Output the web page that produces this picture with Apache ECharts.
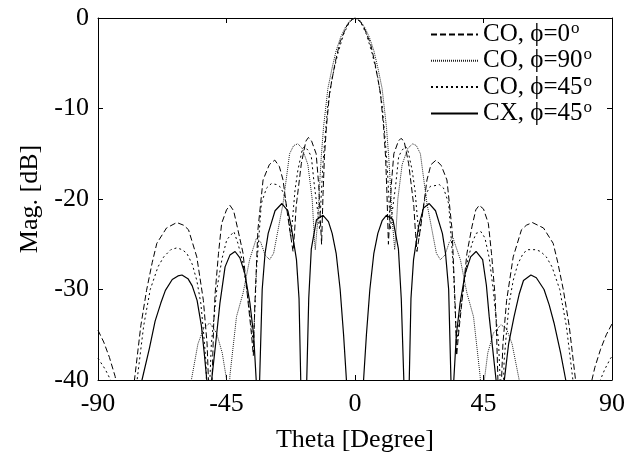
<!DOCTYPE html>
<html>
<head>
<meta charset="utf-8">
<script src="https://cdn.jsdelivr.net/npm/echarts@6/dist/echarts.min.js"></script>
<style>
html,body{margin:0;padding:0;background:#fff;}
#chart{width:628px;height:462px;}
</style>
</head>
<body>
<div id="chart"></div>
<script>
// ---- data (theta in degrees, magnitude in dB) ----
const seriesNames = ['CO, \u03D5=0\u00B0', 'CO, \u03D5=90\u00B0', 'CO, \u03D5=45\u00B0', 'CX, \u03D5=45\u00B0'];
const xTicks = [-90, -45, 0, 45, 90];
const yTicks = [-40, -30, -20, -10, 0];

// CO, phi = 0 (dashed)
const thetaCO0 = [-90,-88,-86,-84,-83.3,-80,-77.6,-75,-73,-71,-69.4,-66,-62.4,-60,-58.3,-55.4,-53.1,-51.8,-50.6,-49.5,-49,-47.8,-46.7,-45,-43.8,-42.5,-41,-39.2,-37.5,-36.3,-35.6,-35.1,-34,-32.2,-30,-28.1,-26.5,-25.2,-23.5,-21.7,-21.2,-20.6,-18.8,-17.2,-16.3,-15.2,-13.6,-12.7,-12.1,-11.7,-11.2,-10.7,-10,-8.9,-7,-5.4,-3.1,-1.5,0,
  1.5,3.1,5.4,7,8.9,10,10.7,11.2,11.7,12.1,12.7,13.6,15.2,16.1,17.2,18.8,20.6,21.2,21.7,23.5,25.2,26.6,28.4,30.2,32.2,34,35.1,35.6,36.3,37.5,39.2,41,42.3,43.5,45,46.7,47.8,49,49.5,50.6,51.8,53.1,55.4,58.3,60,62.1,66,69.4,71,73,75,77.6,80,82.6,84,86,88,90];
const magCO0 = [-34.5,-35.8,-37.5,-39.6,-41,-55,-41,-34,-30.1,-27,-24.9,-23.2,-22.6,-22.9,-23.4,-26.4,-31.2,-36,-46,-34,-30.5,-26,-22.7,-21.2,-20.7,-21.3,-23.4,-26,-31.2,-34.8,-37.3,-31.9,-23.4,-17.9,-16.2,-15.7,-16.4,-17.9,-22,-25.8,-23.8,-20.8,-16.1,-13.6,-13.2,-13.6,-15,-18.5,-22.5,-25,-19.5,-15.3,-12,-8.3,-5,-2.8,-1,-0.25,0,
  -0.25,-1,-2.8,-5,-8.3,-12,-15.3,-19.5,-25,-22.5,-18.5,-15,-13.6,-13.3,-13.6,-16.1,-20.8,-23.8,-25.8,-22,-17.9,-16.2,-15.7,-16.3,-17.9,-23.4,-31.9,-37.3,-34.8,-31.2,-26,-23,-21.2,-20.7,-21.1,-22.7,-26,-30.5,-34,-46,-36,-31.2,-26.4,-23.4,-22.9,-22.6,-23.2,-24.9,-27,-30.1,-34,-41,-55,-40.5,-38.6,-36.6,-35,-33.8];

// CO, phi = 90 (fine dotted)
const thetaCO90 = [-60,-57.3,-55,-53,-50.9,-48.5,-46.5,-44.7,-44.2,-43.8,-41.5,-39.2,-36.9,-34.5,-33,-31.5,-29.9,-28.5,-27,-25.2,-22.9,-21.5,-20,-18.5,-16.5,-15,-14.2,-13.9,-13.5,-13,-12.4,-11.8,-11,-9.5,-8,-6.6,-5,-3.5,-2,0,
  2,3.5,5,6.6,8,9.5,11,11.8,12.4,13,13.5,13.9,14.2,15,16.5,18.5,20.2,21.5,22.9,25.2,27,28.5,29.9,31.5,33,34.2,36.9,39.2,41.5,43.8,44.6,45.3,46.5,48.5,51.1,53,55,57.5,60];
const magCO90 = [-50,-40,-36,-34.3,-33.7,-34.8,-37,-40.5,-43,-39.5,-33,-30.4,-26.7,-24.3,-24.8,-26.2,-26.7,-26,-23.5,-20.5,-15,-14.1,-13.9,-14.4,-16.2,-20,-24.5,-25.6,-24,-22.3,-18.5,-15.3,-12,-7.8,-5.5,-3.6,-2.1,-1.1,-0.35,0,
  -0.35,-1.1,-2.1,-3.6,-5.5,-7.8,-12,-15.3,-18.5,-22.3,-24,-25.6,-24.5,-20,-16.2,-14.4,-13.9,-14.1,-15,-20.5,-23.5,-26,-26.7,-26.2,-24.8,-24.2,-26.7,-30.4,-33,-39.5,-43,-40,-37,-34.8,-33.9,-34.3,-36,-40,-50];

// CO, phi = 45 (short dots)
const thetaCO45 = [-90,-87.5,-85.1,-81,-76.5,-74,-71.7,-69,-67,-64.5,-62.4,-60.5,-58.9,-57,-55.4,-54,-53.1,-52.2,-51.6,-50.3,-48.4,-46.5,-44.9,-42.4,-41,-39.2,-37.5,-36.3,-35.6,-34.9,-34.5,-33.5,-32.8,-31,-29.3,-27.5,-26.4,-24.9,-23.5,-22.5,-21.9,-21,-20,-18.5,-17.7,-16.5,-15.3,-14.2,-13,-12.4,-11.9,-11.2,-10.5,-9.5,-8,-6,-4,-2,0,
  2,4,6,8,9.5,10.5,11.2,11.9,12.4,13,14.2,15.3,16.5,17.7,18.5,20,21,21.9,22.5,23.5,24.9,26.4,28.4,29.5,31,32.8,33.5,34.5,34.9,35.6,36.3,37.5,39.2,41,42.4,44.1,45.5,47,48.4,50.3,51.6,52.2,53.1,54,55.4,57,58.9,60.5,63.3,65,67,69,71.7,74,76.5,81,85.5,87.5,89.5,90];
const magCO45 = [-37.6,-38.8,-40.3,-52,-40.5,-34,-30,-27.5,-26.4,-25.6,-25.4,-25.6,-26,-27.2,-29,-31.5,-34.5,-38,-46,-36,-30,-26.5,-24.5,-23.6,-24.9,-27.1,-31,-34.1,-36,-31,-27.8,-23.5,-20.5,-18.8,-18.3,-18.4,-18.6,-19.4,-21.5,-24.3,-22.3,-19,-16.8,-14.6,-14.2,-14.6,-15.3,-18.6,-21.5,-23.4,-20,-16,-13.2,-9.6,-6.6,-3.9,-1.8,-0.45,0,
  -0.45,-1.8,-3.9,-6.6,-9.6,-13.2,-16,-20,-23.4,-21.5,-18.6,-15.3,-14.6,-14.2,-14.6,-16.8,-19,-22.3,-24.3,-21.5,-19.4,-18.6,-18.5,-18.4,-18.8,-20.5,-23.5,-27.8,-31,-36,-34.1,-31,-27.1,-24.9,-23.8,-23.6,-24.3,-26.5,-30,-36,-46,-38,-34.5,-31.5,-29,-27.2,-26,-25.6,-25.6,-25.8,-26.4,-27.5,-30,-34,-40.5,-52,-40.3,-38.8,-37.6,-37.4];

// CX, phi = 45 (solid)
const thetaCX = [-76,-74.6,-72,-70,-68,-66.4,-64,-62,-60.6,-58.5,-57,-55.3,-53.8,-52.8,-51.9,-51.1,-50.2,-48.8,-47.3,-45.5,-43.8,-42,-40.3,-38.6,-36.8,-35.5,-34.6,-34,-33.4,-32.5,-31.5,-30.4,-28,-25.6,-23.5,-22.3,-20.5,-19.6,-19,-17.8,-16.9,-16.2,-15.3,-13.5,-11.2,-9.3,-8,-6.6,-5.2,-4,-3,0,
  3,4,5.2,6.6,8,9.5,11,13.3,15.2,16.2,17.1,18.1,19,19.6,20.5,22.3,24,26,28.2,30.6,31.7,32.8,33.6,34.1,34.6,35.5,36.8,38.6,40.5,42.4,44.7,46,47,48.2,49.4,50.9,52.3,53.8,55.7,57.5,59,61.6,63.5,66.2,68,69.7,72,73.8,75];
const magCX = [-45,-40,-36.5,-33.5,-31.5,-30.1,-28.9,-28.5,-28.4,-28.8,-29.6,-31.2,-34,-37,-40,-47,-40,-36,-31.5,-27.5,-26.2,-25.8,-26.5,-28.2,-31.5,-35,-40,-46,-40,-30,-26,-23.8,-21.3,-20.5,-21.3,-23.1,-26.7,-31,-40,-48,-40,-31,-25.5,-22.3,-21.8,-22.5,-23.8,-26,-30,-35,-40,-55,
  -40,-35,-30,-26,-23.8,-22.4,-21.8,-22.3,-25.5,-31,-40,-48,-40,-31,-26.7,-23,-21,-20.5,-21.3,-23.8,-26,-30,-40,-46,-40,-35,-31.5,-28.2,-26.4,-25.8,-26.7,-29.5,-33,-36.5,-40,-47,-40,-36,-33,-30.5,-29,-28.4,-28.7,-30,-31.7,-33.7,-37,-40,-45];

const serif = "'Liberation Serif','DejaVu Serif','Times New Roman',serif";
function pairs(t, m) { return t.map((v, i) => [v, m[i]]); }

const chart = echarts.init(document.getElementById('chart'), null, {renderer: 'canvas'});
const common = {
  type: 'line', symbol: 'none', showSymbol: false, clip: true, smooth: false,
  xAxisIndex: 0, yAxisIndex: 0, animation: false
};
const option = {
  animation: false,
  backgroundColor: '#fff',
  grid: {left: 98, right: 15, top: 18, bottom: 82, show: false},
  legend: {
    orient: 'vertical', left: 425, top: 15,
    itemWidth: 47, itemHeight: 12, itemGap: -2.7,
    itemStyle: {opacity: 0},
    textStyle: {fontFamily: serif, fontSize: 25, color: '#000', lineHeight: 24,
      rich: {s: {fontFamily: serif, fontSize: 17, color: '#000', lineHeight: 12, padding: [0, 0, 12, 1]}}},
    formatter: name => name.replace('\u00B0', '{s|o}'),
    data: seriesNames
  },
  xAxis: [{
    type: 'value', min: -90, max: 90, interval: 45, position: 'bottom',
    axisLine: {onZero: false, lineStyle: {color: '#000', width: 1}},
    axisTick: {inside: true, length: 5, lineStyle: {color: '#000'}},
    axisLabel: {color: '#000', fontFamily: serif, fontSize: 26, margin: 11,
      formatter: v => xTicks.includes(v) ? String(v) : ''},
    splitLine: {show: false},
    name: 'Theta [Degree]', nameLocation: 'middle', nameGap: 47,
    nameTextStyle: {color: '#000', fontFamily: serif, fontSize: 26}
  }, {
    type: 'value', min: -90, max: 90, interval: 45, position: 'top',
    axisLine: {onZero: false, lineStyle: {color: '#000', width: 1}},
    axisTick: {inside: true, length: 5, lineStyle: {color: '#000'}},
    axisLabel: {show: false}, splitLine: {show: false}
  }],
  yAxis: [{
    type: 'value', min: -40, max: 0, interval: 10, position: 'left',
    axisLine: {show: true, onZero: false, lineStyle: {color: '#000', width: 1}},
    axisTick: {show: true, inside: true, length: 5, lineStyle: {color: '#000'}},
    axisLabel: {color: '#000', fontFamily: serif, fontSize: 26, margin: 9,
      formatter: v => yTicks.includes(v) ? String(v) : ''},
    splitLine: {show: false},
    name: 'Mag. [dB]', nameLocation: 'middle', nameGap: 53,
    nameTextStyle: {color: '#000', fontFamily: serif, fontSize: 26}
  }, {
    type: 'value', min: -40, max: 0, interval: 10, position: 'right',
    axisLine: {show: true, onZero: false, lineStyle: {color: '#000', width: 1}},
    axisTick: {show: true, inside: true, length: 5, lineStyle: {color: '#000'}},
    axisLabel: {show: false}, splitLine: {show: false}
  }],
  series: [
    Object.assign({}, common, {name: seriesNames[0], data: pairs(thetaCO0, magCO0),
      lineStyle: {color: '#000', width: 1, type: [6, 3]}, itemStyle: {color: '#000'}}),
    Object.assign({}, common, {name: seriesNames[1], data: pairs(thetaCO90, magCO90),
      lineStyle: {color: '#222', width: 1, type: [1, 1]}, itemStyle: {color: '#000'}}),
    Object.assign({}, common, {name: seriesNames[2], data: pairs(thetaCO45, magCO45),
      lineStyle: {color: '#000', width: 1, type: [2, 3]}, itemStyle: {color: '#000'}}),
    Object.assign({}, common, {name: seriesNames[3], data: pairs(thetaCX, magCX),
      lineStyle: {color: '#000', width: 1.2, type: 'solid'}, itemStyle: {color: '#000'}})
  ]
};
chart.setOption(option);
</script>
</body>
</html>
